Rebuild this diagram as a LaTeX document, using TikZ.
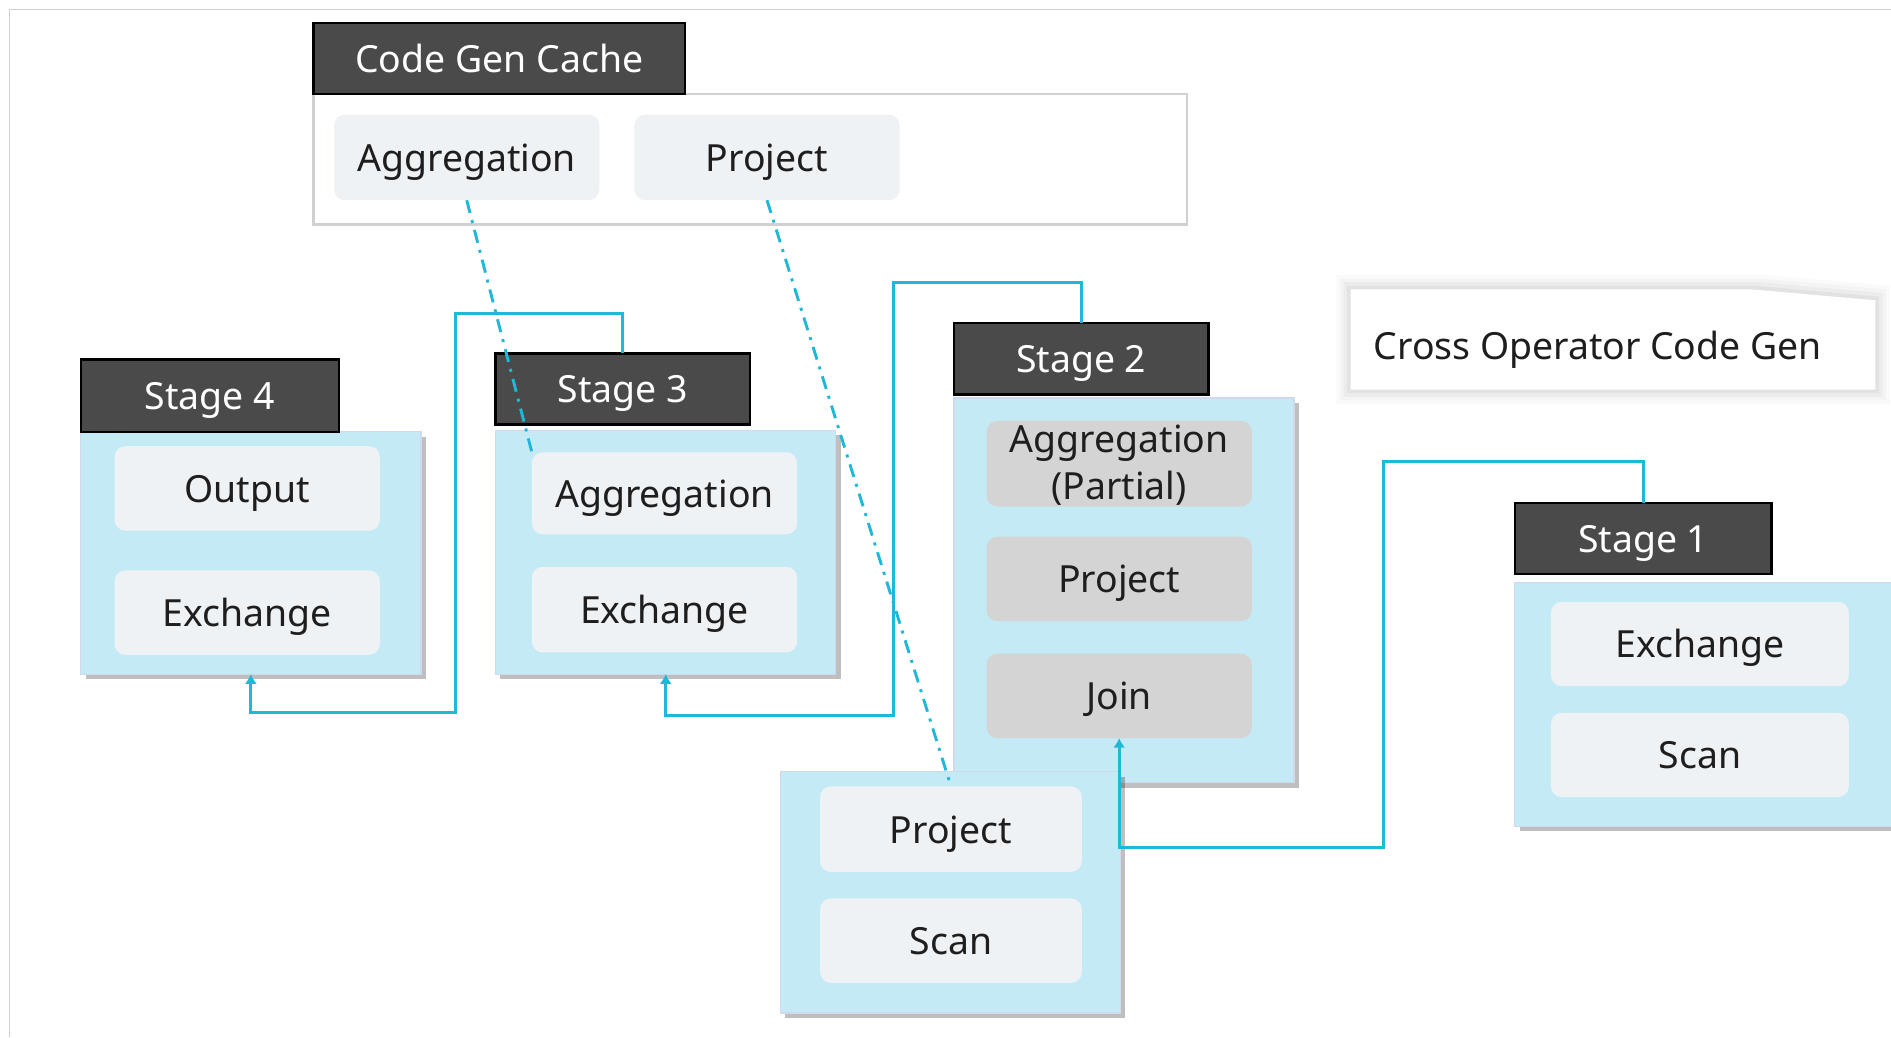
\documentclass[tikz,border=0pt]{standalone}
\usepackage{fontspec}
\setmainfont{Noto Sans}
\usetikzlibrary{arrows.meta,shadows}
\definecolor{bodyblue}{HTML}{C4EAF5}
\definecolor{opfill}{HTML}{EEF2F5}
\definecolor{opgray}{HTML}{D4D4D4}
\definecolor{hdr}{HTML}{4A4A4A}
\definecolor{cyanline}{HTML}{1FB8D8}
\definecolor{framegray}{HTML}{D0D0D0}
\definecolor{bodyedge}{HTML}{D2D8EC}
\definecolor{optext}{HTML}{1E1E1E}
\begin{document}
\begin{tikzpicture}[x=1pt,y=-1pt,
  every node/.style={font=\fontsize{31}{39}\selectfont, inner sep=0pt, outer sep=0pt,
    text height=23pt, text depth=0pt},
  hdrbox/.style={rectangle, fill=hdr, draw=black, line width=2pt, text=white},
  stagebody/.style={rectangle, fill=bodyblue, draw=bodyedge, line width=1pt,
    drop shadow={shadow xshift=4pt, shadow yshift=-4pt, fill=black, opacity=0.25}},
  opbox/.style={rectangle, rounded corners=9pt, fill=opfill, minimum width=220pt,
    minimum height=70pt, text=optext, align=center},
  opgraybox/.style={opbox, fill=opgray},
  link/.style={draw=cyanline, line width=2.4pt},
  cachelink/.style={draw=cyanline, line width=2.4pt, dash pattern=on 11pt off 6pt on 2.5pt off 6pt},
  tip/.style={-{Latex[length=8pt,width=10pt]}}
]
\useasboundingbox (0,0) rectangle (1568,860);
\clip (0,0) rectangle (1568,860);
\fill[white] (0,0) rectangle (1568,860);
\draw[framegray, line width=1.2pt] (8,860) -- (8,8) -- (1568,8);

% Code gen cache
\node[draw=framegray, line width=2pt, fill=white, minimum width=724pt, minimum height=108pt] (cache) at (622,132) {};
\node[hdrbox, minimum width=308pt, minimum height=59pt] (cacheh) at (414,48.5) {Code Gen Cache};
\node[opbox, minimum height=71pt] (cagg) at (387,130.5) {Aggregation};
\node[opbox, minimum height=71pt] (cproj) at (636,130.5) {Project};

% Cross operator code gen label with soft shadow
\foreach \d/\o in {12/0.02,9/0.025,6/0.03,3/0.04}{
  \fill[black, opacity=\o] (1120-\d,240-\d) -- (1453+\d,240-\d) -- (1555+\d,249-\d) -- (1555+\d,323+\d) -- (1120-\d,323+\d) -- cycle;
}
\fill[white] (1120,240) -- (1453,240) -- (1555,249) -- (1555,323) -- (1120,323) -- cycle;
\node[anchor=west, text=optext] (cross) at (1139,287) {Cross Operator Code Gen};

% Stage bodies
\node[stagebody, minimum width=282pt, minimum height=201pt] (s4b) at (208,458.5) {};
\node[stagebody, minimum width=282pt, minimum height=202pt] (s3b) at (552,458) {};
\node[stagebody, minimum width=282pt, minimum height=319pt] (s2b) at (932,489.5) {};
\node[stagebody, minimum width=282pt, minimum height=200pt] (s0b) at (788,740) {};
\node[stagebody, minimum width=330pt, minimum height=202pt] (s1b) at (1421,584) {};

% Headers
\node[hdrbox, minimum width=214pt, minimum height=60pt] (s4h) at (174,328) {Stage 4};
\node[hdrbox, minimum width=211pt, minimum height=59pt] (s3h) at (516.5,322.5) {Stage 3};
\node[hdrbox, minimum width=211pt, minimum height=59pt] (s2h) at (896.5,297.5) {Stage 2};
\node[hdrbox, minimum width=213pt, minimum height=59pt] (s1h) at (1362.5,446.5) {Stage 1};

% Operators
\node[opbox] (s4out) at (205,405) {Output};
\node[opbox] (s4exc) at (205,508) {Exchange};
\node[opbox, minimum height=68pt] (s3agg) at (551,409) {Aggregation};
\node[opbox, minimum height=71pt] (s3exc) at (551,505.5) {Exchange};
\node[opgraybox, minimum height=71pt, text height=60pt, text depth=0pt] (s2agg) at (928,384.5) {Aggregation\\(Partial)};
\node[opgraybox] (s2proj) at (928,480) {Project};
\node[opgraybox] (s2join) at (928,577) {Join};
\node[opbox, minimum width=217pt, minimum height=71pt] (s0proj) at (788.5,687.5) {Project};
\node[opbox, minimum width=217pt] (s0scan) at (788.5,780) {Scan};
\node[opbox, minimum width=247pt] (s1exc) at (1409.5,534) {Exchange};
\node[opbox, minimum width=247pt] (s1scan) at (1409.5,626) {Scan};

% Stage connectors
\draw[link, tip] (s3h.north) |- (378,260) -- (378,591) -| (s4b.south);
\draw[link, tip] (s2h.north) |- (741,234) -- (741,593) -| (s3b.south);
\draw[link, tip] (s1h.north) |- (1147,383) -- (1147,703) -| (s2join.south);

% Cache links
\draw[cachelink] (cagg.south) -- (s3agg.north west);
\draw[cachelink] (cproj.south) -- (s0proj.north);
\end{tikzpicture}
\end{document}
